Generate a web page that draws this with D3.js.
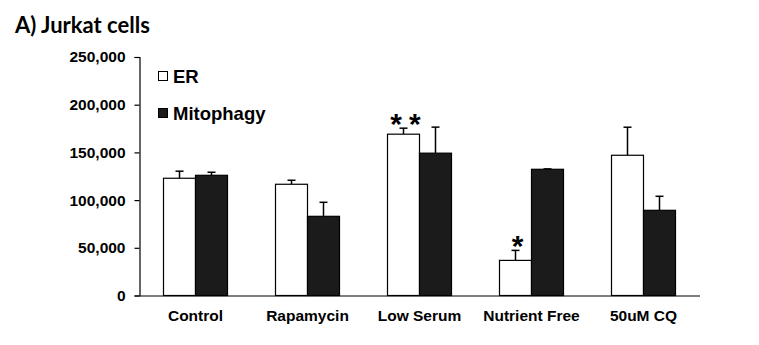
<!DOCTYPE html>
<html><head><meta charset="utf-8">
<script src="https://cdn.jsdelivr.net/npm/d3@7"></script>
<style>body{margin:0;background:#fff}svg{display:block}</style>
</head><body>
<svg id="c" width="759" height="345"></svg>
<script>
const categories = ["Control","Rapamycin","Low Serum","Nutrient Free","50uM CQ"];
const seriesNames = ["ER","Mitophagy"];
const erValues = [122900,116600,169100,36800,147000];
const erErrors = [7400,4200,6300,10500,29400];
const mitoValues = [126000,83000,149200,132300,89300];
const mitoErrors = [3200,14700,27300,400,14700];
const significance = ["","","**","*",""];
const yTicks = [0,50000,100000,150000,200000,250000];

(function(){
const svg = d3.select("#c");
const mLeft = 139.5, mRight = 699.5, mTop = 57, mBottom = 295.5;
const x = d3.scaleBand().domain(categories).range([mLeft,mRight]).padding(0);
const y = d3.scaleLinear().domain([0,250000]).range([mBottom,mTop]);
const barW = x.bandwidth()*32/112;
const fills = ["#ffffff","#1b1b1b"];

svg.append("text").attr("x",15).attr("y",33).text("A) Jurkat cells")
  .attr("font-family","Lato, 'Open Sans', sans-serif").attr("font-weight","bold").attr("font-size","22px").attr("fill","#000");

// y axis
const yAxis = d3.axisLeft(y).tickValues(yTicks).tickSize(5).tickFormat(d3.format(",")).tickPadding(9);
const ya = svg.append("g").attr("transform",`translate(${mLeft},0)`).call(yAxis);
ya.select(".domain").attr("stroke","#000").attr("stroke-width",1.2);
ya.selectAll(".tick line").attr("stroke","#000").attr("stroke-width",1.2);
ya.selectAll("text").attr("font-family","'Liberation Sans', Arial, sans-serif").attr("font-weight","bold").attr("font-size","15.5px").attr("fill","#000");

// x axis
const xAxis = d3.axisBottom(x).tickSize(0).tickPadding(14);
const xa = svg.append("g").attr("transform",`translate(0,${mBottom})`).call(xAxis);
xa.select(".domain").attr("stroke","#000").attr("stroke-width",1.2);
xa.selectAll("text").attr("font-family","'Liberation Sans', Arial, sans-serif").attr("font-weight","bold").attr("font-size","15.5px").attr("fill","#000");

const series = [erValues, mitoValues];
const errs = [erErrors, mitoErrors];
series.forEach((vals,s)=>{
  const g = svg.append("g");
  categories.forEach((c,i)=>{
    const cx = x(c)+x.bandwidth()/2;
    const bx = cx - barW + s*barW;
    const v = vals[i], e = errs[s][i];
    const mx = bx + barW/2;
    g.append("line").attr("x1",mx).attr("x2",mx).attr("y1",y(v)).attr("y2",y(v+e)).attr("stroke","#000").attr("stroke-width",1.5);
    g.append("line").attr("x1",mx-4).attr("x2",mx+4).attr("y1",y(v+e)).attr("y2",y(v+e)).attr("stroke","#000").attr("stroke-width",1.5);
    g.append("rect").attr("x",bx).attr("y",y(v)).attr("width",barW).attr("height",mBottom-y(v))
      .attr("fill",fills[s]).attr("stroke","#000").attr("stroke-width",1.2);
  });
});

// significance stars
categories.forEach((c,i)=>{
  if(!significance[i]) return;
  const cx = x(c)+x.bandwidth()/2 - barW/2 + 2;
  const ls = significance[i].length>1 ? 7 : 0;
  svg.append("text").attr("x",cx + ls/2).attr("y",y(erValues[i]+erErrors[i])+6).attr("text-anchor","middle")
    .attr("font-family","'Liberation Sans', Arial, sans-serif").attr("font-weight","bold").attr("font-size","30px").attr("letter-spacing",ls+"px")
    .attr("fill","#000").text(significance[i]);
});

// legend
const leg = svg.append("g");
seriesNames.forEach((n,i)=>{
  const ly = 76 + i*37;
  leg.append("rect").attr("x",158.5).attr("y",ly-4.5).attr("width",9).attr("height",9).attr("fill",fills[i]).attr("stroke","#000").attr("stroke-width",1);
  leg.append("text").attr("x",173).attr("y",ly+7).text(n)
    .attr("font-family","'Liberation Sans', Arial, sans-serif").attr("font-weight","bold").attr("font-size","18.5px").attr("fill","#000");
});
})();
</script>
</body></html>
